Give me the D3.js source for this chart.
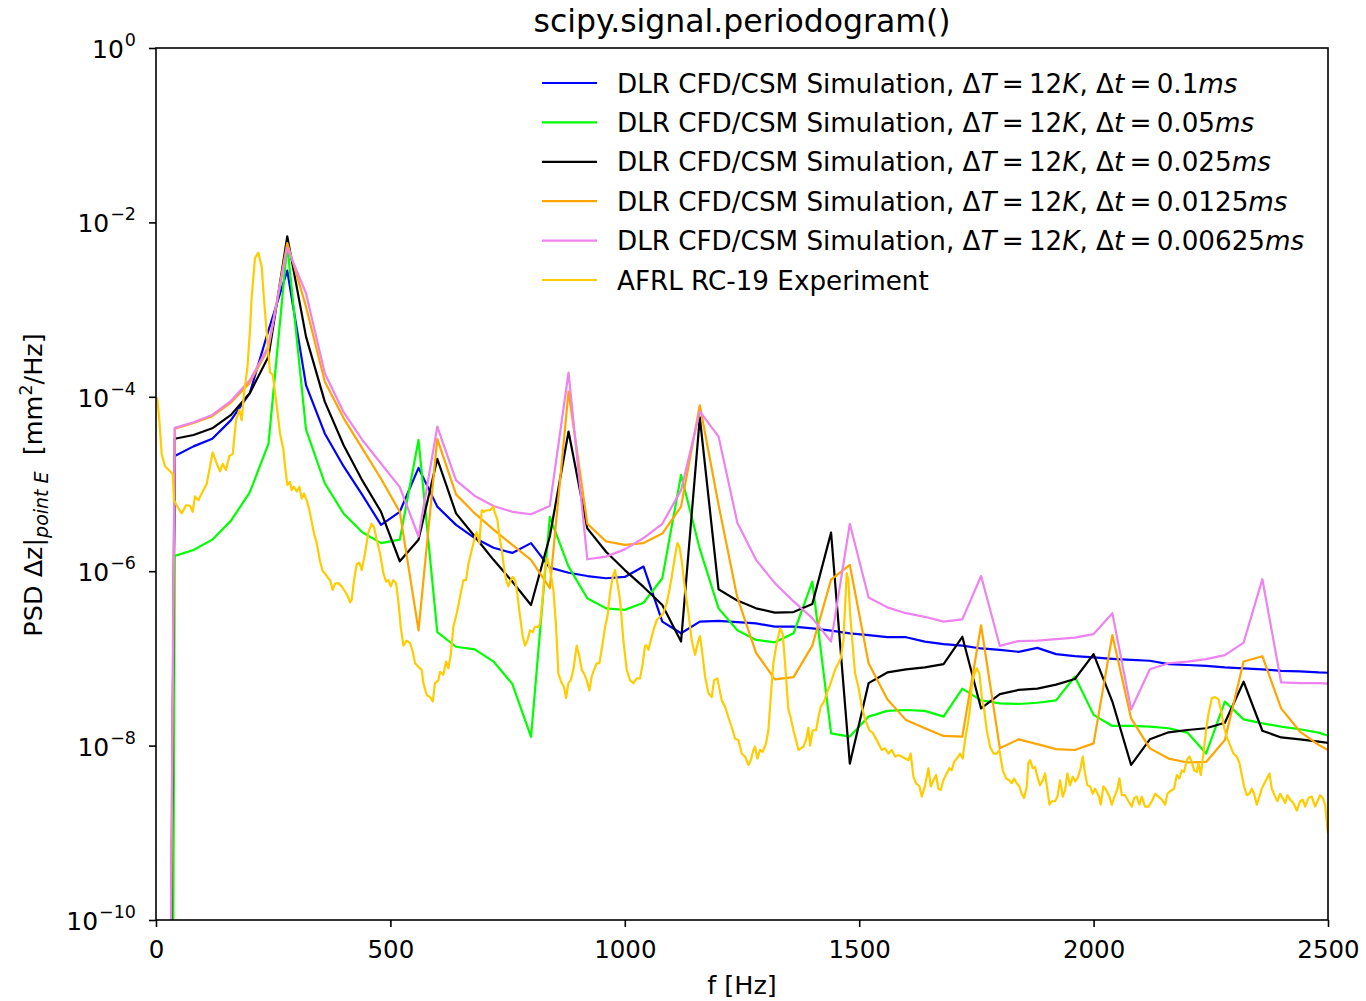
<!DOCTYPE html>
<html><head><meta charset="utf-8">
<script src="https://cdn.jsdelivr.net/npm/d3@7"></script>
<style>
body{margin:0;background:#fff}
svg{display:block}
text{font-family:"DejaVu Sans",sans-serif;fill:#000}
</style>
</head><body>
<svg id="chart" width="1366" height="1001"></svg>
<script>
// ---------------- data ----------------
const freqSim = [0,40,80,120,160,200,240,280,320,360,400,440,480,520,560,600,640,680,720,760,800,840,880,920,960,1000,1040,1080,1120,1160,1200,1240,1280,1320,1360,1400,1440,1480,1520,1560,1600,1640,1680,1720,1760,1800,1840,1880,1920,1960,2000,2040,2080,2120,2160,2200,2240,2280,2320,2360,2400,2440,2480,2520];

const psdDt0100 = [1e-35,2.1e-5,2.7e-5,3.3e-5,5.4e-5,1.1e-4,5.8e-4,2.8e-3,1.36e-4,3.8e-5,1.6e-5,7.5e-6,3.4e-6,4.8e-6,1.53e-5,5.5e-6,3.4e-6,2.4e-6,1.86e-6,1.62e-6,2.1e-6,1.1e-6,9.6e-7,8.8e-7,8.3e-7,8.6e-7,1.13e-6,2.64e-7,1.94e-7,2.64e-7,2.7e-7,2.6e-7,2.52e-7,2.31e-7,2.31e-7,2.21e-7,2.08e-7,1.94e-7,1.85e-7,1.75e-7,1.75e-7,1.56e-7,1.46e-7,1.40e-7,1.30e-7,1.25e-7,1.19e-7,1.32e-7,1.12e-7,1.06e-7,1.03e-7,9.9e-8,9.6e-8,9.4e-8,8.6e-8,8.4e-8,8.2e-8,7.9e-8,7.7e-8,7.5e-8,7.2e-8,7.1e-8,6.9e-8,6.8e-8];

const psdDt0050 = [1e-60,1.5e-6,1.75e-6,2.3e-6,3.8e-6,8.0e-6,2.9e-5,5.5e-3,4.2e-5,1.02e-5,4.6e-6,2.8e-6,2.1e-6,2.3e-6,3.2e-5,2.0e-7,1.36e-7,1.27e-7,9.2e-8,5.1e-8,1.26e-8,4.2e-6,1.13e-6,4.9e-7,3.75e-7,3.6e-7,4.35e-7,8.3e-7,1.27e-5,1.8e-6,3.75e-7,2.1e-7,1.63e-7,1.53e-7,1.94e-7,7.6e-7,1.38e-8,1.27e-8,2.15e-8,2.5e-8,2.56e-8,2.5e-8,2.15e-8,4.5e-8,3.3e-8,3.05e-8,3.0e-8,3.1e-8,3.3e-8,6.2e-8,2.25e-8,1.68e-8,1.68e-8,1.65e-8,1.58e-8,1.41e-8,8.1e-9,3.2e-8,2.0e-8,1.8e-8,1.65e-8,1.54e-8,1.41e-8,1.2e-8];

const psdDt0025 = [1e-35,3.3e-5,3.65e-5,4.35e-5,6.2e-5,1.1e-4,2.9e-4,6.9e-3,4.9e-4,8.8e-5,2.8e-5,1.1e-5,4.8e-6,1.3e-6,2.3e-6,1.94e-5,4.6e-6,2.5e-6,1.35e-6,7.6e-7,4.1e-7,2.5e-6,4.0e-5,3.1e-6,1.67e-6,1.03e-6,6.6e-7,4.1e-7,1.56e-7,5.8e-5,6.2e-7,4.6e-7,3.75e-7,3.35e-7,3.4e-7,4.2e-7,2.77e-6,6.2e-9,5.2e-8,6.9e-8,7.5e-8,7.9e-8,8.6e-8,1.77e-7,2.67e-8,3.9e-8,4.35e-8,4.5e-8,5.0e-8,5.8e-8,1.12e-7,3.2e-8,6.0e-9,1.18e-8,1.42e-8,1.51e-8,1.58e-8,1.83e-8,5.4e-8,1.48e-8,1.24e-8,1.18e-8,1.11e-8,1.04e-8];

const psdDt0125 = [1e-33,4.3e-5,5.0e-5,6.0e-5,8.6e-5,1.45e-4,3.6e-4,5.8e-3,1.08e-3,1.5e-4,5.7e-5,2.56e-5,1.15e-5,4.8e-6,2.1e-7,3.3e-5,7.6e-6,4.6e-6,3.0e-6,2.0e-6,1.35e-6,6.4e-7,1.15e-4,3.5e-6,2.2e-6,2.0e-6,2.1e-6,2.7e-6,5.5e-6,8.0e-5,5.75e-6,5.0e-7,1.16e-7,5.75e-8,6.1e-8,1.4e-7,8.0e-7,1.18e-6,8.8e-8,3.4e-8,1.96e-8,1.58e-8,1.29e-8,1.27e-8,2.4e-7,9.3e-9,1.18e-8,1.04e-8,9.1e-9,8.9e-9,1.06e-8,1.85e-7,2.05e-8,9.3e-9,7.1e-9,6.4e-9,6.5e-9,1.16e-8,9.2e-8,1.06e-7,2.67e-8,1.45e-8,1.02e-8,7.8e-9];

const psdDt00625 = [1e-32,4.4e-5,5.1e-5,6.2e-5,9.0e-5,1.55e-4,3.8e-4,5.1e-3,1.54e-3,1.86e-4,6.7e-5,3.2e-5,1.72e-5,9.2e-6,2.5e-6,4.55e-5,1.1e-5,7.3e-6,5.6e-6,4.8e-6,4.5e-6,5.6e-6,1.9e-4,1.37e-6,1.47e-6,1.78e-6,2.4e-6,3.5e-6,8.5e-6,6.8e-5,3.5e-5,3.6e-6,1.35e-6,7.3e-7,4.5e-7,2.9e-7,1.56e-7,3.5e-6,5.0e-7,3.85e-7,3.3e-7,3.0e-7,2.64e-7,2.8e-7,8.8e-7,1.39e-7,1.58e-7,1.6e-7,1.66e-7,1.73e-7,1.9e-7,3.3e-7,2.6e-8,7.5e-8,8.8e-8,9.2e-8,9.8e-8,1.09e-7,1.52e-7,8.1e-7,5.3e-8,5.2e-8,5.2e-8,5.1e-8];

const expFreq = [0,2.8,7.1,12.1,19.2,29.9,35.6,38.4,44.1,54.8,64.0,72.5,78.2,83.2,90.3,101.0,108.1,115.2,120.9,128.0,136.5,142.2,149.3,156.4,163.6,170.7,177.8,182.8,187.7,194.8,200.5,204.1,211.2,218.3,225.4,230.4,237.5,243.2,248.9,256.0,264.5,271.6,275.2,280.2,285.9,289.4,294.4,300.1,305.8,310.8,315.7,321.4,327.1,332.1,337.1,342.8,349.9,355.6,360.5,367.6,371.2,376.9,381.9,389.0,396.1,408.2,413.9,417.4,422.4,428.1,433.8,438.8,445.9,453.0,460.1,465.1,470.8,477.9,485.0,490.7,495.6,500.6,506.3,512.0,517.0,522.0,527.7,534.8,541.9,547.6,552.6,559.7,566.8,570.3,577.5,584.6,590.3,595.2,602.3,605.9,613.0,618.7,623.7,628.7,634.3,641.5,648.6,655.7,661.4,666.3,673.5,680.6,684.1,689.8,694.8,699.8,705.5,712.6,719.7,723.2,728.2,732.5,737.5,742.4,746.7,751.7,756.6,760.9,765.9,769.5,776.6,782.2,787.2,792.2,797.9,803.6,808.5,815.7,819.2,824.9,829.9,835.0,841.0,847.7,853.4,858.3,865.5,870.4,874.7,879.7,884.6,890.3,897.4,903.1,908.1,913.1,918.8,924.5,929.4,934.4,940.1,945.8,952.9,957.9,962.9,968.5,974.2,979.2,984.2,989.9,997.0,1004.1,1011.2,1018.3,1025.4,1032.5,1038.3,1043.2,1046.8,1050.3,1055.3,1061.0,1068.1,1075.2,1082.3,1089.4,1095.1,1100.1,1107.2,1112.2,1116.5,1121.5,1128.6,1135.7,1142.8,1149.9,1157.0,1160.5,1166.2,1171.2,1178.3,1185.4,1190.4,1197.5,1206.7,1213.8,1221.0,1230.2,1235.2,1242.3,1249.4,1256.5,1263.6,1268.6,1274.3,1277.8,1282.8,1288.5,1294.2,1301.3,1306.3,1311.3,1316.9,1324.1,1331.2,1336.9,1341.8,1348.9,1353.9,1359.6,1365.3,1370.3,1375.3,1380.9,1386.6,1391.6,1395.2,1400.9,1408.0,1412.9,1417.9,1425.0,1430.7,1436.4,1448.5,1460.6,1466.3,1469.8,1473.4,1477.0,1480.5,1486.2,1491.2,1498.3,1505.4,1512.5,1521.7,1528.9,1541.0,1548.1,1555.2,1562.3,1569.4,1576.5,1583.6,1590.7,1605.0,1609.9,1615.6,1621.3,1628.4,1633.4,1640.5,1647.6,1652.6,1658.3,1664.0,1668.9,1673.9,1679.6,1686.7,1692.4,1697.4,1702.4,1708.0,1715.2,1720.8,1725.8,1730.8,1735.1,1740.0,1745.0,1750.7,1756.4,1761.4,1766.4,1772.1,1779.2,1786.3,1793.4,1799.0,1806.2,1813.3,1820.4,1825.4,1830.4,1836.0,1841.7,1846.7,1851.7,1857.4,1860.9,1864.5,1870.2,1875.2,1880.1,1885.8,1891.5,1896.5,1901.5,1905.7,1910.7,1917.8,1922.8,1928.5,1934.2,1939.2,1944.1,1949.8,1955.5,1960.5,1965.5,1971.2,1976.9,1981.8,1986.8,1992.5,1998.2,2003.2,2010.3,2015.3,2020.9,2026.6,2033.7,2038.7,2045.8,2050.8,2055.1,2060.1,2067.2,2074.3,2081.4,2086.4,2092.1,2097.7,2102.7,2109.8,2117.0,2124.1,2131.2,2138.3,2145.4,2152.5,2157.5,2163.2,2171.7,2177.4,2183.1,2188.1,2193.0,2198.7,2204.4,2209.4,2214.4,2220.1,2223.6,2228.6,2234.3,2240.0,2244.9,2252.1,2259.2,2266.3,2273.4,2278.4,2284.0,2298.3,2305.4,2311.1,2316.0,2321.0,2326.7,2332.4,2337.4,2342.4,2348.0,2353.7,2358.7,2369.4,2375.1,2380.0,2387.2,2392.1,2397.8,2403.5,2408.5,2413.5,2419.2,2426.3,2433.4,2440.5,2446.2,2451.2,2458.3,2465.4,2472.5,2477.5,2483.2,2488.8,2493.8,2498.8,2500];

const expPsd = [1.0e-4,9.4e-5,5.4e-5,2.2e-5,1.6e-5,1.4e-5,1.3e-5,6.5e-6,5.7e-6,4.6e-6,5.7e-6,5.6e-6,4.8e-6,7.2e-6,6.5e-6,8.5e-6,1.0e-5,1.6e-5,2.3e-5,1.8e-5,1.4e-5,1.7e-5,1.45e-5,2.1e-5,2.2e-5,5.4e-5,7.1e-5,5.4e-5,1.1e-4,2.1e-4,5.8e-4,1.4e-3,3.9e-3,4.5e-3,3.1e-3,1.3e-3,4.5e-4,1.9e-4,1.8e-4,9.2e-5,3.8e-5,2.5e-5,1.6e-5,9.7e-6,1.06e-5,8.5e-6,9.3e-6,8.2e-6,9.3e-6,6.8e-6,7.8e-6,6.5e-6,5.0e-6,3.7e-6,2.7e-6,2.1e-6,1.3e-6,1.0e-6,9.4e-7,8.3e-7,7.9e-7,6.1e-7,7.2e-7,7.3e-7,6.7e-7,5.3e-7,4.4e-7,4.7e-7,7.9e-7,1.2e-6,1.25e-6,1.03e-6,1.6e-6,2.8e-6,3.5e-6,3.2e-6,2.3e-6,1.6e-6,9.5e-7,7.6e-7,7.9e-7,6.7e-7,7.9e-7,7.3e-7,4.5e-7,2.3e-7,1.4e-7,1.6e-7,1.5e-7,1.2e-7,8.8e-8,8.0e-8,7.4e-8,5.2e-8,3.8e-8,3.6e-8,3.2e-8,5.2e-8,5.6e-8,7.0e-8,6.5e-8,9.2e-8,7.7e-8,1.1e-7,2.3e-7,3.3e-7,5.1e-7,7.9e-7,7.9e-7,1.2e-6,1.75e-6,2.5e-6,2.8e-6,2.1e-6,5.0e-6,4.8e-6,5.0e-6,5.0e-6,5.5e-6,4.6e-6,3.9e-6,2.5e-6,1.75e-6,1.1e-6,7.9e-7,6.7e-7,7.9e-7,8.6e-7,7.9e-7,6.1e-7,3.0e-7,1.8e-7,1.4e-7,1.6e-7,2.1e-7,2.0e-7,2.3e-7,2.3e-7,2.5e-7,5.1e-7,1.1e-6,1.4e-6,1.0e-6,6.1e-7,2.3e-7,6.7e-8,5.2e-8,4.7e-8,3.5e-8,5.2e-8,5.6e-8,7.4e-8,1.4e-7,1.05e-7,7.4e-8,6.7e-8,5.6e-8,4.3e-8,6.2e-8,7.4e-8,8.8e-8,8.8e-8,1.5e-7,2.3e-7,3.0e-7,5.6e-7,8.6e-7,1.03e-6,7.3e-7,4.7e-7,1.6e-7,7.4e-8,5.6e-8,5.2e-8,5.9e-8,5.9e-8,8.8e-8,1.4e-7,1.4e-7,1.25e-7,1.6e-7,2.1e-7,2.75e-7,3.0e-7,3.3e-7,4.3e-7,6.1e-7,8.6e-7,1.5e-6,2.1e-6,1.9e-6,1.3e-6,6.1e-7,3.3e-7,1.6e-7,1.1e-7,1.6e-7,1.8e-7,1.05e-7,6.2e-8,4.0e-8,3.6e-8,5.6e-8,5.9e-8,3.3e-8,2.8e-8,2.1e-8,1.5e-8,1.2e-8,1.16e-8,8.1e-9,7.5e-9,6.0e-9,6.8e-9,8.9e-9,9.7e-9,7.1e-9,8.9e-9,8.5e-9,1.06e-8,1.5e-8,3.6e-8,8.8e-8,1.5e-7,2.2e-7,1.9e-7,8.8e-8,2.6e-8,2.1e-8,1.5e-8,1.16e-8,8.9e-9,9.3e-9,9.7e-9,1.16e-8,1.6e-8,1.0e-8,1.5e-8,1.5e-8,2.1e-8,2.8e-8,3.2e-8,4.0e-8,4.7e-8,7.4e-8,1.0e-7,1.6e-7,3.9e-7,9.5e-7,7.9e-7,3.3e-7,1.36e-7,6.7e-8,4.7e-8,2.8e-8,2.0e-8,1.5e-8,1.4e-8,1.06e-8,8.9e-9,9.3e-9,8.1e-9,8.9e-9,7.5e-9,7.8e-9,7.5e-9,6.8e-9,8.1e-9,4.4e-9,3.7e-9,3.4e-9,2.6e-9,3.5e-9,5.5e-9,3.4e-9,4.0e-9,4.6e-9,3.2e-9,3.1e-9,4.0e-9,4.8e-9,5.5e-9,5.2e-9,6.5e-9,7.1e-9,8.1e-9,7.1e-9,1.16e-8,1.65e-8,2.3e-8,4.7e-8,6.5e-8,7.7e-8,6.7e-8,3.6e-8,2.6e-8,1.5e-8,9.7e-9,8.1e-9,8.1e-9,8.9e-9,5.2e-9,4.2e-9,4.0e-9,3.7e-9,4.2e-9,3.7e-9,3.4e-9,2.8e-9,2.5e-9,3.4e-9,6.3e-9,6.8e-9,5.5e-9,5.7e-9,4.4e-9,3.5e-9,4.0e-9,4.8e-9,3.1e-9,2.1e-9,2.3e-9,2.3e-9,2.6e-9,4.0e-9,2.6e-9,3.1e-9,4.8e-9,3.5e-9,4.4e-9,3.9e-9,4.2e-9,5.2e-9,7.5e-9,4.8e-9,3.5e-9,3.4e-9,2.8e-9,3.2e-9,2.7e-9,2.1e-9,3.4e-9,3.1e-9,2.6e-9,2.1e-9,2.7e-9,3.2e-9,4.2e-9,2.7e-9,2.7e-9,2.3e-9,2.0e-9,2.5e-9,2.6e-9,2.1e-9,2.6e-9,2.0e-9,2.0e-9,2.3e-9,2.8e-9,2.6e-9,2.4e-9,2.1e-9,2.8e-9,3.0e-9,3.2e-9,4.6e-9,4.2e-9,5.2e-9,5.0e-9,6.8e-9,7.5e-9,6.5e-9,5.2e-9,5.0e-9,6.3e-9,4.6e-9,8.1e-9,1.5e-8,2.3e-8,3.5e-8,3.6e-8,3.4e-8,2.3e-8,1.6e-8,1.26e-8,8.1e-9,7.5e-9,6.3e-9,4.6e-9,3.4e-9,2.7e-9,2.8e-9,3.2e-9,2.8e-9,2.1e-9,2.6e-9,3.2e-9,4.2e-9,4.8e-9,3.2e-9,2.6e-9,2.3e-9,2.8e-9,2.5e-9,2.2e-9,2.7e-9,2.4e-9,2.2e-9,1.8e-9,2.3e-9,2.4e-9,2.0e-9,2.5e-9,2.6e-9,2.0e-9,2.3e-9,2.7e-9,2.5e-9,2.1e-9,1.1e-9,1.0e-9];

const dtLabels = ["0.1", "0.05", "0.025", "0.0125", "0.00625"];
const expLabel = "AFRL RC-19 Experiment";
const xTicks = [0, 500, 1000, 1500, 2000, 2500];
const yTickExps = [0, -2, -4, -6, -8, -10];
const titleText = "scipy.signal.periodogram()";

// ---------------- layout ----------------
const L = 156, R = 1328, T = 48, B = 920;
const svg = d3.select("#chart");
const x = d3.scaleLinear().domain([0, 2500]).range([L, R]);
const y = d3.scaleLog().domain([1e-10, 1]).range([B, T]);

const series = [
  {v: psdDt0100, c: "#0000ff"},
  {v: psdDt0050, c: "#00ff00"},
  {v: psdDt0025, c: "#000000"},
  {v: psdDt0125, c: "#ffa500"},
  {v: psdDt00625, c: "#ee82ee"}
];
const expColor = "#ffcc00";

svg.append("defs").append("clipPath").attr("id", "clip")
  .append("rect").attr("x", L).attr("y", T).attr("width", R - L).attr("height", B - T);

const line = d3.line().x(d => x(d[0])).y(d => y(d[1]));
const g = svg.append("g").attr("clip-path", "url(#clip)");
series.forEach(s => {
  g.append("path").datum(freqSim.map((f, i) => [f, s.v[i]]))
    .attr("d", line).attr("fill", "none").attr("stroke", s.c)
    .attr("stroke-width", 2.2).attr("stroke-linejoin", "round");
});
g.append("path").datum(expFreq.map((f, i) => [f, expPsd[i]]))
  .attr("d", line).attr("fill", "none").attr("stroke", expColor)
  .attr("stroke-width", 2.2).attr("stroke-linejoin", "round");

// axes
const xAxis = d3.axisBottom(x).tickValues(xTicks).tickSize(7).tickPadding(14).tickFormat(d => d);
const gx = svg.append("g").attr("transform", `translate(0,${B})`).call(xAxis);
gx.select(".domain").remove();
gx.selectAll("line").attr("stroke", "#000").attr("stroke-width", 1.6);
gx.selectAll("text").attr("font-size", 24.5).attr("font-family", "DejaVu Sans").attr("fill", "#000");

const yAxis = d3.axisLeft(y).tickValues(yTickExps.map(e => Math.pow(10, e))).tickSize(7).tickFormat("");
const gy = svg.append("g").attr("transform", `translate(${L},0)`).call(yAxis);
gy.select(".domain").remove();
gy.selectAll("line").attr("stroke", "#000").attr("stroke-width", 1.6);
yTickExps.forEach(e => {
  const t = svg.append("text").attr("x", 136).attr("y", y(Math.pow(10, e)) + 10)
    .attr("text-anchor", "end").attr("font-size", 25);
  t.append("tspan").text("10");
  t.append("tspan").attr("dx", 1).attr("dy", -12).attr("font-size", 17.5).text(e === 0 ? "0" : "\u2212" + Math.abs(e));
});

// frame
svg.append("rect").attr("x", L).attr("y", T).attr("width", R - L).attr("height", B - T)
  .attr("fill", "none").attr("stroke", "#000").attr("stroke-width", 1.6);

// title and labels
svg.append("text").attr("x", (L + R) / 2).attr("y", 32).attr("text-anchor", "middle")
  .attr("font-size", 31.5).text(titleText);
svg.append("text").attr("x", (L + R) / 2).attr("y", 994).attr("text-anchor", "middle")
  .attr("font-size", 25.5).text("f [Hz]");
const yl = svg.append("text").attr("transform", "translate(42,485) rotate(-90)")
  .attr("text-anchor", "middle").attr("font-size", 25.5);
yl.append("tspan").text("PSD \u0394z|");
yl.append("tspan").attr("dy", 6).attr("font-size", 19).attr("font-style", "italic").text("point E");
yl.append("tspan").attr("dy", -6).text("\u00a0\u00a0[mm");
yl.append("tspan").attr("dy", -10).attr("font-size", 17.5).text("2");
yl.append("tspan").attr("dy", 10).text("/Hz]");

// legend
const legColors = series.map(s => s.c).concat([expColor]);
const legY0 = 83, legDy = 39.4;
legColors.forEach((c, i) => {
  const yy = legY0 + i * legDy;
  svg.append("line").attr("x1", 542).attr("x2", 597).attr("y1", yy).attr("y2", yy)
    .attr("stroke", c).attr("stroke-width", 2.2);
  const t = svg.append("text").attr("x", 617).attr("y", yy + 9.5).attr("font-size", 26.2);
  if (i < dtLabels.length) {
    t.append("tspan").text("DLR CFD/CSM Simulation, \u0394");
    t.append("tspan").attr("font-style", "italic").text("T");
    t.append("tspan").text("\u2009=\u200912");
    t.append("tspan").attr("font-style", "italic").text("K");
    t.append("tspan").text(", \u0394");
    t.append("tspan").attr("font-style", "italic").text("t");
    t.append("tspan").text("\u2009=\u2009" + dtLabels[i]);
    t.append("tspan").attr("font-style", "italic").text("ms");
  } else {
    t.text(expLabel);
  }
});
</script>
</body></html>
